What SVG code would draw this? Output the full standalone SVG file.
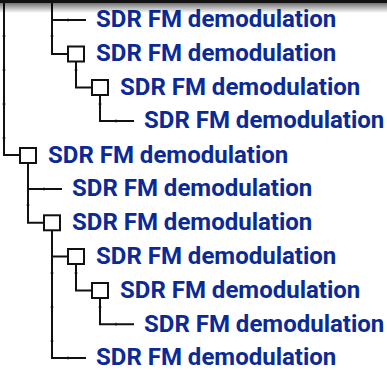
<svg xmlns="http://www.w3.org/2000/svg" width="387" height="370" viewBox="0 0 387 370">
<defs>
<linearGradient id="sh" x1="0" y1="0" x2="0" y2="1">
<stop offset="0" stop-color="#000" stop-opacity="0.55"/>
<stop offset="1" stop-color="#000" stop-opacity="0"/>
</linearGradient>
</defs>
<style>
.t{font-family:Roboto,"Liberation Sans",sans-serif;font-weight:bold;font-size:24px;fill:#0b2a96}
.c{fill:none;stroke:#111;stroke-width:2}
.b{fill:#fff;stroke:#111;stroke-width:2}
.k{fill:none;stroke:#111;stroke-width:1}
</style>
<rect width="387" height="370" fill="#fff"/>
<g id="connectors">
<path class="c" d="M4 0V155H20"/>
<path class="c" d="M52 0V54H68M52 20H86"/>
<path class="c" d="M76 61V87.6H92"/>
<path class="c" d="M100 95V121H134"/>
<path class="c" d="M28 163V222.8H44M28 189H62"/>
<path class="c" d="M52 230V358H86M52 256.6H68"/>
<path class="c" d="M76 264V290.4H92"/>
<path class="c" d="M100 298V324.2H134"/>
<path class="k" d="M2.5 36H5.5M2.5 70H5.5M2.5 104H5.5M2.5 138H5.5M50.5 36H53.5M68 18.5V21.5M116 119.5V122.5M26.5 205H29.5M44 187.5V190.5M50.5 273H53.5M50.5 307H53.5M50.5 341H53.5M68 356.5V359.5M74.5 273H77.5M98.5 307H101.5M116 322.7V325.7M74.5 70H77.5M98.5 104H101.5"/>
</g>
<g id="n1"><text class="t" x="96" y="27">SDR FM demodulation</text></g>
<g id="n2"><rect class="b" x="68" y="46.5" width="16" height="15"/><text class="t" x="96" y="61">SDR FM demodulation</text></g>
<g id="n3"><rect class="b" x="92" y="80" width="16" height="15"/><text class="t" x="120" y="94.5">SDR FM demodulation</text></g>
<g id="n4"><text class="t" x="144" y="128">SDR FM demodulation</text></g>
<g id="n5"><rect class="b" x="20" y="148" width="16" height="15"/><text class="t" x="48" y="162.5">SDR FM demodulation</text></g>
<g id="n6"><text class="t" x="72" y="196">SDR FM demodulation</text></g>
<g id="n7"><rect class="b" x="44" y="215.3" width="16" height="15"/><text class="t" x="72" y="230">SDR FM demodulation</text></g>
<g id="n8"><rect class="b" x="68" y="249" width="16" height="15"/><text class="t" x="96" y="264">SDR FM demodulation</text></g>
<g id="n9"><rect class="b" x="92" y="283" width="16" height="15"/><text class="t" x="120" y="297.5">SDR FM demodulation</text></g>
<g id="n10"><text class="t" x="144" y="331.5">SDR FM demodulation</text></g>
<g id="n11"><text class="t" x="96" y="365">SDR FM demodulation</text></g>
<rect x="0" y="0" width="387" height="3" fill="#111"/>
<rect x="0" y="3" width="387" height="10" fill="url(#sh)"/>
</svg>
